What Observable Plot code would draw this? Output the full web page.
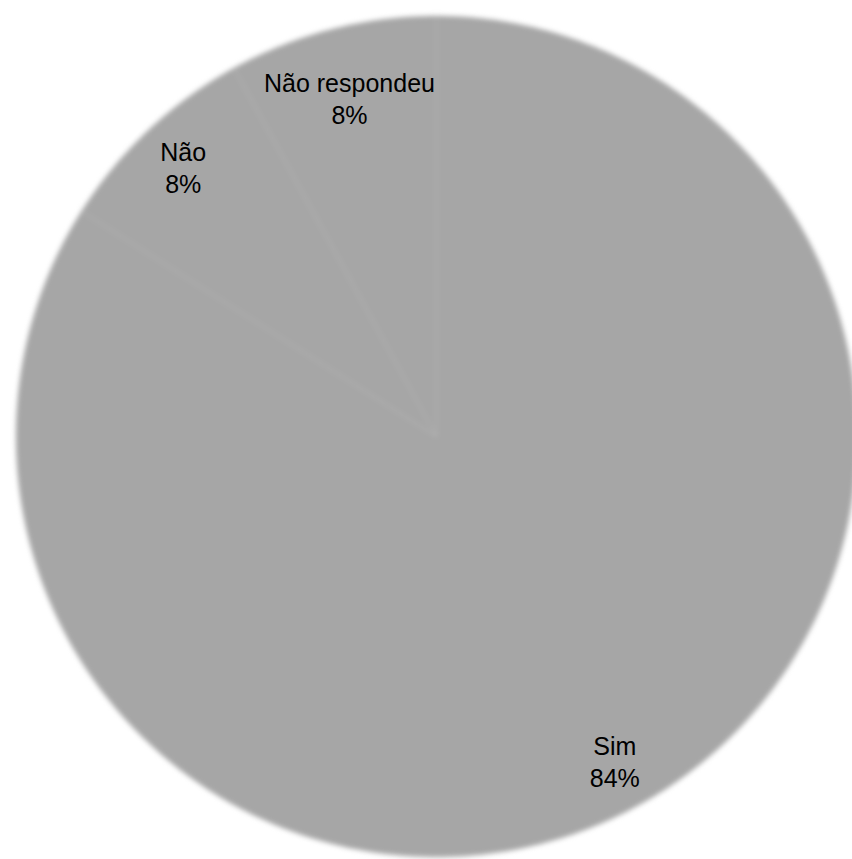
<!DOCTYPE html>
<html>
<head>
<meta charset="utf-8">
<script src="https://cdn.jsdelivr.net/npm/d3@7"></script>
<script src="https://cdn.jsdelivr.net/npm/@observablehq/plot@0.6"></script>
<style>
  html, body { margin: 0; padding: 0; background: #ffffff; }
  #chart svg { display: block; }
</style>
</head>
<body>
<div id="chart"></div>
<script>
// Data
const categories = ["Sim", "Não", "Não respondeu"];
const values = [84, 8, 8];
const percentLabels = ["84%", "8%", "8%"];

// Geometry
const W = 852, H = 859;
const R = 420;
const labelRadii = [370, 370, 350];
const total = d3.sum(values);

// Build slice polygons (angles clockwise from 12 o'clock)
const slices = [];
const labelData = [];
let acc = 0;
categories.forEach((cat, i) => {
  const a0 = acc / total * 2 * Math.PI;
  acc += values[i];
  const a1 = acc / total * 2 * Math.PI;
  slices.push({cat, x: 0, y: 0});
  const n = Math.max(2, Math.ceil((a1 - a0) / (Math.PI / 360)));
  for (let k = 0; k <= n; k++) {
    const a = a0 + (a1 - a0) * k / n;
    slices.push({cat, x: R * Math.sin(a), y: R * Math.cos(a)});
  }
  const am = (a0 + a1) / 2;
  labelData.push({
    text: cat + "\n" + percentLabels[i],
    x: labelRadii[i] * Math.sin(am),
    y: labelRadii[i] * Math.cos(am)
  });
});

const chart = Plot.plot({
  width: W,
  height: H,
  margin: 0,
  style: {background: "#ffffff", fontFamily: "'Liberation Sans', Arial, sans-serif"},
  x: {domain: [-436, 416], axis: null},
  y: {domain: [-423, 436], axis: null},
  marks: [
    Plot.line(slices, {
      x: "x", y: "y", z: "cat",
      curve: "linear-closed",
      fill: "#a6a6a6",
      stroke: "#b0b0b0",
      strokeWidth: 1.5,
      className: "pie-slices"
    }),
    Plot.text(labelData, {
      x: "x", y: "y", text: "text",
      fontSize: 25,
      lineHeight: 1.3,
      fill: "#000000",
      fontFamily: "'Liberation Sans', Arial, sans-serif"
    })
  ]
});

document.getElementById("chart").appendChild(chart);
const g = chart.querySelector("g.pie-slices") || chart.querySelector(".pie-slices");
if (g) g.style.filter = "blur(2.5px)";
</script>
</body>
</html>
